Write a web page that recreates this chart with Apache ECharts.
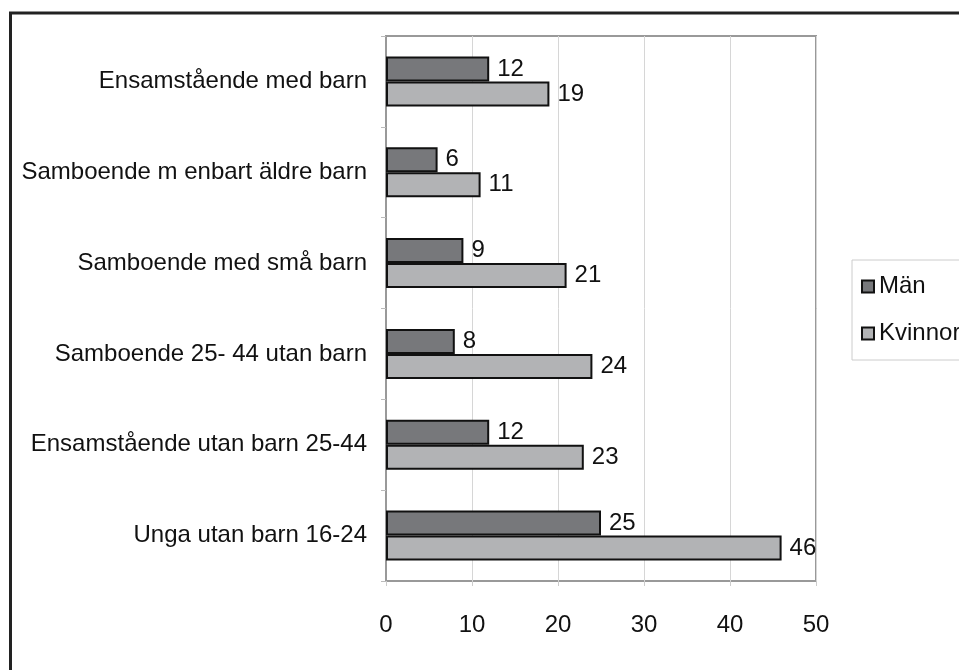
<!DOCTYPE html>
<html>
<head>
<meta charset="utf-8">
<script src="https://cdn.jsdelivr.net/npm/echarts@6/dist/echarts.min.js"></script>
<style>
  html, body { margin: 0; padding: 0; background: #fff; }
  #chart { width: 959px; height: 670px; }
</style>
</head>
<body>
<div id="chart"></div>
<script>
// kategorier uppifrån och ned
const categories = [
  'Ensamstående med barn',
  'Samboende m enbart äldre barn',
  'Samboende med små barn',
  'Samboende 25- 44 utan barn',
  'Ensamstående utan barn 25-44',
  'Unga utan barn 16-24'
]
const manValues = [12, 6, 9, 8, 12, 25]
const kvinnorValues = [19, 11, 21, 24, 23, 46]
const seriesNames = ['Män', 'Kvinnor']

const FONT = "'Liberation Sans', Arial, sans-serif"
const FS = 24
const chart = echarts.init(document.getElementById('chart'))

const labelStyle = {
  show: true, position: 'right', distance: 8,
  fontFamily: FONT, fontSize: FS, color: '#111'
}

chart.setOption({
  animation: false,
  textStyle: { fontFamily: FONT },
  grid: {
    left: 386, top: 36, right: 143, bottom: 89,
    outerBoundsMode: 'none', containLabel: false,
    show: true, borderColor: '#999', borderWidth: 2
  },
  legend: {
    orient: 'vertical', left: 852, top: 260,
    padding: [13, 40, 13, 9], itemGap: 20,
    itemWidth: 12, itemHeight: 12, icon: 'rect',
    borderColor: '#ccc', borderWidth: 1,
    textStyle: { fontFamily: FONT, fontSize: FS, lineHeight: 27, color: '#111' },
    data: seriesNames
  },
  xAxis: {
    type: 'value', min: 0, max: 50, interval: 10,
    axisLine: { show: false },
    axisTick: { show: true, length: 5, lineStyle: { color: '#ccc' } },
    axisLabel: { margin: 32, fontFamily: FONT, fontSize: FS, color: '#111' },
    splitLine: { lineStyle: { color: '#d6d6d6', width: 1 } }
  },
  yAxis: {
    type: 'category', inverse: true, data: categories,
    axisLine: { show: true, lineStyle: { color: '#999', width: 2 } },
    axisTick: { show: true, length: 5, lineStyle: { color: '#bbb' } },
    axisLabel: { margin: 19, fontFamily: FONT, fontSize: FS, color: '#111' }
  },
  series: [
    {
      name: seriesNames[0], type: 'bar', data: manValues,
      barWidth: 25, barGap: '0%',
      itemStyle: { color: '#77787b', borderColor: '#111', borderWidth: 2 },
      label: labelStyle
    },
    {
      name: seriesNames[1], type: 'bar', data: kvinnorValues,
      barWidth: 25,
      itemStyle: { color: '#b2b3b5', borderColor: '#111', borderWidth: 2 },
      label: labelStyle
    }
  ],
  graphic: [
    {
      type: 'rect', silent: true, z: -1,
      shape: { x: 10.5, y: 13, width: 1000, height: 700 },
      style: { fill: 'none', stroke: '#222', lineWidth: 3 }
    }
  ]
})
</script>
</body>
</html>
